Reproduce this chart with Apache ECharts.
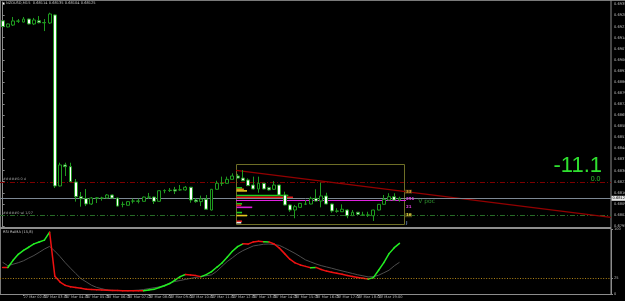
<!DOCTYPE html>
<html><head><meta charset="utf-8">
<script src="https://cdn.jsdelivr.net/npm/echarts@6/dist/echarts.min.js"></script>
<style>html,body{margin:0;padding:0;background:#000;}#c{width:625px;height:301px;}</style>
</head><body><div id="c"></div>
<script>
const symbol = 'NZDUSD,M15';
const dayLabel = '27 Mar';
const firstLabel = '27 Mar 2019';
const times = ['01:00','01:15','01:30','01:45','02:00','02:15','02:30','02:45','03:00','03:15','03:30','03:45',
'04:00','04:15','04:30','04:45','05:00','05:15','05:30','05:45','06:00','06:15','06:30','06:45',
'07:00','07:15','07:30','07:45','08:00','08:15','08:30','08:45','09:00','09:15','09:30','09:45',
'10:00','10:15','10:30','10:45','11:00','11:15','11:30','11:45','12:00','12:15','12:30','12:45',
'13:00','13:15','13:30','13:45','14:00','14:15','14:30','14:45','15:00','15:15','15:30','15:45',
'16:00','16:15','16:30','16:45','17:00','17:15','17:30','17:45','18:00','18:15','18:30','18:45',
'19:00','19:15','19:30','19:45','20:00'];
const futureBars = 40;

const opens = [0.69247,0.69208,0.69220,0.69244,0.69239,0.69258,0.69227,0.69247,0.69236,0.69233,
0.69284,0.68203,0.68336,0.68325,0.68228,0.68135,0.68123,0.68089,0.68126,0.68127,
0.68127,0.68146,0.68127,0.68086,0.68081,0.68107,0.68108,0.68106,0.68132,0.68133,
0.68106,0.68173,0.68174,0.68179,0.68178,0.68178,0.68195,0.68114,0.68104,0.68119,
0.68051,0.68182,0.68219,0.68220,0.68245,0.68266,0.68253,0.68241,0.68209,0.68184,
0.68220,0.68192,0.68182,0.68209,0.68146,0.68083,0.68051,0.68068,0.68088,0.68089,
0.68125,0.68108,0.68140,0.68089,0.68045,0.68040,0.68051,0.68015,0.68037,0.68018,
0.68020,0.68015,0.68051,0.68087,0.68114,0.68135,0.68114];
const closes = [0.69210,0.69227,0.69246,0.69246,0.69258,0.69227,0.69252,0.69235,0.69234,0.69290,
0.68203,0.68336,0.68325,0.68230,0.68135,0.68123,0.68089,0.68127,0.68128,0.68126,
0.68146,0.68127,0.68076,0.68087,0.68104,0.68108,0.68107,0.68133,0.68133,0.68106,
0.68173,0.68174,0.68176,0.68171,0.68179,0.68195,0.68114,0.68104,0.68121,0.68056,
0.68182,0.68220,0.68220,0.68245,0.68266,0.68253,0.68236,0.68205,0.68184,0.68220,
0.68184,0.68178,0.68209,0.68146,0.68083,0.68051,0.68072,0.68093,0.68089,0.68125,
0.68108,0.68140,0.68089,0.68045,0.68044,0.68056,0.68015,0.68037,0.68024,0.68020,
0.68018,0.68051,0.68087,0.68119,0.68135,0.68114,0.68125];
const highs = [0.69252,0.69230,0.69271,0.69258,0.69271,0.69261,0.69265,0.69277,0.69258,0.69298,
0.69287,0.68350,0.68350,0.68350,0.68247,0.68165,0.68184,0.68133,0.68133,0.68135,
0.68152,0.68149,0.68130,0.68104,0.68108,0.68123,0.68123,0.68136,0.68159,0.68136,
0.68176,0.68182,0.68190,0.68197,0.68209,0.68203,0.68197,0.68125,0.68142,0.68146,
0.68184,0.68236,0.68262,0.68262,0.68283,0.68279,0.68304,0.68251,0.68262,0.68262,
0.68222,0.68198,0.68234,0.68211,0.68167,0.68085,0.68083,0.68095,0.68114,0.68135,
0.68182,0.68224,0.68160,0.68091,0.68062,0.68087,0.68056,0.68051,0.68039,0.68040,
0.68040,0.68053,0.68089,0.68146,0.68157,0.68157,0.68135];
const lows = [0.69208,0.69205,0.69214,0.69233,0.69236,0.69224,0.69220,0.69231,0.69182,0.69227,
0.68190,0.68200,0.68266,0.68228,0.68104,0.68072,0.68076,0.68083,0.68095,0.68110,
0.68124,0.68124,0.68073,0.68068,0.68080,0.68093,0.68093,0.68105,0.68121,0.68089,
0.68104,0.68157,0.68165,0.68152,0.68173,0.68173,0.68097,0.68097,0.68076,0.68051,
0.68048,0.68179,0.68203,0.68217,0.68243,0.68250,0.68234,0.68203,0.68181,0.68160,
0.68182,0.68174,0.68179,0.68144,0.68081,0.68040,0.67999,0.68066,0.68083,0.68087,
0.68106,0.68068,0.68087,0.68034,0.68034,0.68039,0.67999,0.68013,0.68020,0.68013,
0.68007,0.67982,0.68049,0.68085,0.68112,0.68112,0.68104];

const priceMin = 0.679437, priceMax = 0.693657;
const priceTicks = [0.6795,0.6802,0.6809,0.6816,0.6823,0.6830,0.6837,0.6844,0.6851,0.6858,
0.6865,0.6872,0.6879,0.6886,0.6893,0.6900,0.6907,0.6914,0.6921,0.6928,0.6935];

const rsiTitle = 'RSI RsiMA (15,8)';
const rsiMain = [41.1,41.1,52.2,61.5,67.7,72.5,77.7,80.5,83.5,95.8,
27.7,18.5,13.4,11.2,10.0,8.8,7.5,6.9,6.5,6.2,
5.8,5.5,5.4,5.2,5.1,5.1,5.0,5.0,6.2,7.2,
10.0,12.8,16.2,21.5,26.9,30.3,29.5,28.5,26.9,30.0,
34.6,41.4,48.0,56.9,66.2,73.5,77.8,77.4,80.8,81.8,
80.9,80.8,77.5,71.1,62.6,54.0,48.3,45.1,42.8,40.8,
41.2,38.0,35.5,33.7,32.2,30.5,28.8,27.2,25.5,24.3,
23.1,25.4,36.9,48.6,62.6,71.8,78.5];
const rsiTrend = [-1,-1,1,1,1,1,1,1,1,1,
-1,-1,-1,-1,-1,-1,-1,-1,-1,-1,
-1,-1,-1,-1,-1,-1,-1,-1,1,1,
1,1,1,1,1,1,-1,-1,-1,1,
1,1,1,1,1,1,1,-1,-1,-1,
-1,1,-1,-1,-1,-1,-1,-1,-1,-1,
1,-1,-1,-1,-1,-1,-1,-1,-1,-1,
-1,1,1,1,1,1,1];
const rsiSignal = [49.2,43.8,46.2,48.5,51.5,55.7,59.7,64.6,69.7,73.8,
66.5,58.0,48.5,40.0,31.8,23.8,18.8,13.7,10.2,8.2,
6.2,5.8,5.5,5.4,5.1,5.5,6.0,6.9,8.3,9.7,
10.9,13.7,16.8,19.4,20.9,22.6,24.2,25.7,27.1,28.3,
29.7,35.2,42.9,50.3,56.2,62.5,67.2,70.9,74.5,75.8,
77.2,77.5,76.5,75.4,71.5,67.2,62.9,58.0,52.9,49.7,
46.6,44.0,42.0,40.0,37.8,35.8,33.8,31.8,29.8,28.2,
26.5,26.9,29.1,32.9,36.9,43.7,49.2];
const rsiLevel = 25;
const rsiTicks = [0, 25, 100];

const redLevel = 0.68230, greenLevel = 0.68018;
const redLevelTag = '#####0.0 d', greenLevelTag = '#####0 wl 1/27';
const boxStartBar = 44.7, boxEndBar = 76.86, boxHigh = 0.68345, boxLow = 0.67967;
const trendStart = [44.7, 0.68301], trendEnd = [116.5, 0.68004];
const pocPrice = 0.68121, pocLabel = 'V poc', pocLabelBar = 79.6;
const vpPrices = [0.68191,0.68182,0.68172,0.68143,0.68131,0.68090,0.68081,0.68068,0.68035,0.68016,0.67980,0.67971];
const vpVolumes = [1.15,1.5,2.1,10.0,10.9,1.15,1.0,3.1,1.15,2.1,1.15,1.0];
const vpKinds = ['buy','delta','value','buy','sell','buy','sell','poc','buy','value','sell','edge'];
const boxTagPrices = [0.68167, 0.68121, 0.68071, 0.68018, 0.67967];
const boxTagTexts = ['33','251','21','16','J'];
const boxTagKinds = ['delta','poc','poc','value','blue'];
const deltaReadout = '-11.1', deltaSub = '0.0';

const vpColors = {buy:'#1fd01f', sell:'#e01818', delta:'#e08a1a', value:'#e6c81e', poc:'#d81cd8', edge:'#e8e8e8'};
const tagStyles = {delta:['#e0a030','#4a3210'], poc:['#e040e0',null], value:['#e0d040','#3e3e10'], blue:['#6688bb',null]};

const n = closes.length;
const categories = times.concat(Array.from({length: futureBars}, (_, k) => 'f' + k));
const candles = opens.map((o, i) => [o, closes[i], lows[i], highs[i]]);
const f5 = v => v.toFixed(5);
const tiny = 'DejaVu Sans';

function overlay(params, api) {
  const cs = params.coordSys;
  const X = v => api.coord([v, boxLow])[0];
  const Y = p => api.coord([boxStartBar, p])[1];
  const cr = v => Math.round(v) + 0.5;
  const ch = [];
  const hline = (p, color, dash) => ({type:'line', shape:{x1:cs.x, x2:cs.x + cs.width, y1:cr(Y(p)), y2:cr(Y(p))},
    style:{stroke:color, lineWidth:1, lineDash:dash || null}});
  ch.push(hline(redLevel, '#7c0000', [5,2,1,2]));
  ch.push(hline(greenLevel, '#266a26', [5,2,1,2]));
  ch.push({type:'text', x:cs.x + 3, y:Y(redLevel) - 1, style:{text:redLevelTag, fill:'#a0a0a0', fontSize:3.4, fontFamily:tiny, verticalAlign:'bottom'}});
  ch.push({type:'text', x:cs.x + 3, y:Y(greenLevel) - 1, style:{text:greenLevelTag, fill:'#a0a0a0', fontSize:3.4, fontFamily:tiny, verticalAlign:'bottom'}});
  const bx1 = X(boxStartBar), bx2 = X(boxEndBar), by1 = Y(boxHigh), by2 = Y(boxLow);
  ch.push({type:'rect', shape:{x:cr(bx1), y:cr(by1), width:Math.round(bx2 - bx1), height:Math.round(by2 - by1)},
    style:{fill:null, stroke:'#6e6e26', lineWidth:1}});
  vpPrices.forEach((p, i) => {
    const x1 = bx1 + 0.5, x2 = X(boxStartBar + vpVolumes[i]);
    ch.push({type:'rect', shape:{x:x1, y:Y(p) - 0.8, width:x2 - x1, height:1.6}, style:{fill:vpColors[vpKinds[i]]}});
  });
  const t1 = api.coord(trendStart), t2 = api.coord(trendEnd);
  ch.push({type:'line', shape:{x1:t1[0], y1:t1[1], x2:t2[0], y2:t2[1]}, style:{stroke:'#930000', lineWidth:1.3}});
  const lp = Y(closes[n - 1]);
  ch.push({type:'line', shape:{x1:cs.x, x2:cs.x + cs.width, y1:cr(lp), y2:cr(lp)}, style:{stroke:'#7d8894', lineWidth:1}});
  ch.push({type:'line', shape:{x1:bx1, x2:bx2 + 2, y1:cr(Y(pocPrice)) + 1, y2:cr(Y(pocPrice)) + 1}, style:{stroke:'#e020e0', lineWidth:1}});
  boxTagPrices.forEach((p, i) => {
    const st = tagStyles[boxTagKinds[i]];
    const y = Y(p);
    if (st[1]) ch.push({type:'rect', shape:{x:bx2 + 1, y:y - 2, width:7, height:4}, style:{fill:st[1]}});
    ch.push({type:'text', x:bx2 + 2, y:y, style:{text:boxTagTexts[i], fill:st[0], fontSize:4, fontWeight:'bold', fontFamily:tiny, verticalAlign:'middle'}});
  });
  ch.push({type:'text', x:X(pocLabelBar), y:Y(pocPrice) + 2, style:{text:pocLabel, fill:'#2c8c2c', fontSize:6, fontFamily:tiny, verticalAlign:'middle'}});
  ch.push({type:'rect', shape:{x:cs.x + cs.width + 0.5, y:lp - 2.5, width:13.5, height:5}, style:{fill:'#e6e6e6'}});
  ch.push({type:'text', x:cs.x + cs.width + 1.5, y:lp, style:{text:f5(closes[n - 1]), fill:'#000', fontSize:3.6, fontFamily:tiny, verticalAlign:'middle'}});
  return {type:'group', children:ch};
}

function rsiSeg(params, api) {
  const i = params.dataIndex;
  if (i === 0) return null;
  const a = api.coord([i - 1, rsiMain[i - 1]]), b = api.coord([i, rsiMain[i]]);
  return {type:'line', shape:{x1:a[0], y1:a[1], x2:b[0], y2:b[1]},
    style:{stroke: rsiTrend[i] > 0 ? '#22ee22' : '#ee1111', lineWidth:1.5, lineCap:'round'}};
}

const chart = echarts.init(document.getElementById('c'), null, {renderer:'canvas'});
const axisGray = '#8c8c8c';
chart.setOption({
  backgroundColor:'#000',
  animation:false,
  grid:[
    {left:0, right:14, top:2, height:225, containLabel:false, outerBoundsMode:'none'},
    {left:0, right:14, top:229.5, height:64.5, containLabel:false, outerBoundsMode:'none'}
  ],
  xAxis:[
    {type:'category', gridIndex:0, data:categories, show:false},
    {type:'value', gridIndex:0, min:-0.5, max:categories.length - 0.5, show:false},
    {type:'category', gridIndex:1, data:categories,
      axisLine:{show:true, lineStyle:{color:axisGray, width:1}},
      axisTick:{show:true, length:2, alignWithLabel:true, interval:(i) => i % 4 === 0 && i < n, lineStyle:{color:axisGray}},
      axisLabel:{show:true, interval:(i) => i % 4 === 0 && i < n, align:'left', margin:1.5, fontSize:3.6, fontFamily:tiny, color:'#b8b8b8',
        formatter:(v, i) => i === 0 ? firstLabel : dayLabel + ' ' + v},
      splitLine:{show:false}}
  ],
  yAxis:[
    {type:'value', gridIndex:0, position:'right', min:priceMin, max:priceMax, scale:true,
      axisLine:{show:true, lineStyle:{color:axisGray}},
      axisTick:{show:true, length:2, customValues:priceTicks, lineStyle:{color:axisGray}},
      axisLabel:{show:true, customValues:priceTicks, margin:3, fontSize:3.6, fontFamily:tiny, color:'#bdbdbd', formatter:(v) => f5(v)},
      splitLine:{show:false}},
    {type:'value', gridIndex:1, position:'right', min:0, max:100,
      axisLine:{show:true, lineStyle:{color:axisGray}},
      axisTick:{show:true, length:2, customValues:rsiTicks, lineStyle:{color:axisGray}},
      axisLabel:{show:true, customValues:rsiTicks, margin:3, fontSize:3.6, fontFamily:tiny, color:'#bdbdbd', formatter:(v) => String(v)},
      splitLine:{show:false}}
  ],
  series:[
    {type:'custom', xAxisIndex:1, yAxisIndex:0, data:[[boxStartBar, boxLow]], renderItem:overlay, clip:false, z:1, silent:true},
    {type:'candlestick', xAxisIndex:0, yAxisIndex:0, data:candles, barWidth:3.4, z:3, silent:true,
      itemStyle:{color:'#000000', color0:'#ffffff', borderColor:'#1f9a1f', borderColor0:'#1f9a1f', borderWidth:1}},
    {type:'line', xAxisIndex:2, yAxisIndex:1, data:rsiSignal, symbol:'none', z:3, silent:true,
      lineStyle:{color:'#4e4e4e', width:1},
      markLine:{silent:true, symbol:'none', label:{show:false}, data:[{yAxis:rsiLevel}],
        lineStyle:{color:'#b08418', type:[1,1.6], width:1}}},
    {type:'custom', xAxisIndex:2, yAxisIndex:1, data:rsiMain.map((v, i) => [i, v]), renderItem:rsiSeg, z:4, silent:true}
  ],
  graphic:[
    {type:'rect', shape:{x:0, y:0, width:625, height:1}, style:{fill:'#7a7a7a'}, silent:true},
    {type:'rect', shape:{x:0, y:0, width:1, height:294}, style:{fill:'#7a7a7a'}, silent:true},
    {type:'rect', shape:{x:0, y:227, width:611, height:2}, style:{fill:'#8e8e8e'}, silent:true},
    {type:'rect', shape:{x:610.5, y:0, width:1, height:294}, style:{fill:axisGray}, silent:true},
    {type:'rect', shape:{x:2, y:2.5, width:2.5, height:1.5}, style:{fill:'#ffffff'}, silent:true},
    {type:'text', x:6, y:3.3, style:{text:symbol + '  ' + f5(opens[n-1]) + ' ' + f5(highs[n-1]) + ' ' + f5(lows[n-1]) + ' ' + f5(closes[n-1]),
      fill:'#c8c8c8', fontSize:3.6, fontFamily:tiny, verticalAlign:'middle'}, silent:true},
    {type:'text', x:3, y:232, style:{text:rsiTitle, fill:'#c8c8c8', fontSize:3.6, fontFamily:tiny, verticalAlign:'middle'}, silent:true},
    {type:'text', x:602, y:165.5, style:{text:deltaReadout, fill:'#2fe02f', fontSize:22, fontFamily:'Liberation Sans', align:'right', verticalAlign:'middle'}, silent:true},
    {type:'text', x:600.5, y:179.5, style:{text:deltaSub, fill:'#2fbf2f', fontSize:7, fontFamily:'Liberation Sans', align:'right', verticalAlign:'middle'}, silent:true}
  ]
});
</script></body></html>
